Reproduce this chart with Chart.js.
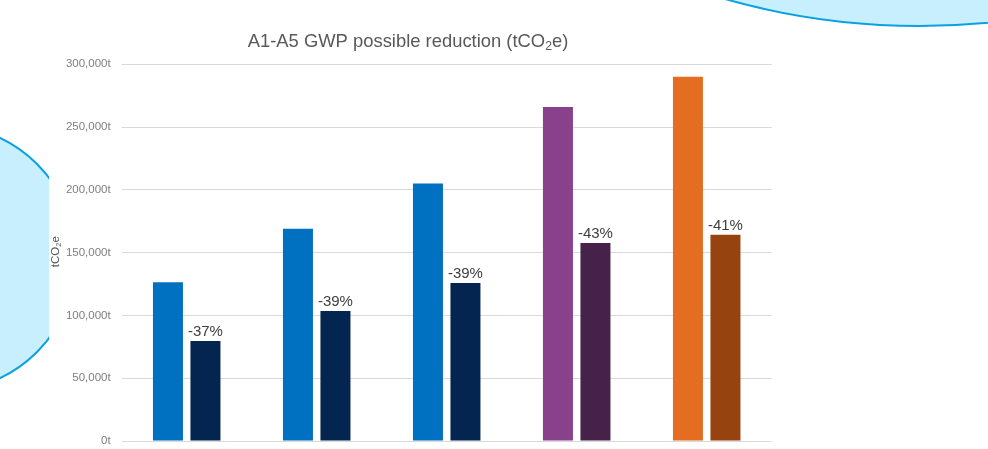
<!DOCTYPE html>
<html>
<head>
<meta charset="utf-8">
<title>A1-A5 GWP possible reduction</title>
<script src="https://cdn.jsdelivr.net/npm/chart.js@4.4.1/dist/chart.umd.min.js"></script>
<style>
  html, body { margin: 0; padding: 0; background: #fff; overflow: hidden; }
  #stage { position: relative; width: 988px; height: 449px; overflow: hidden; background: #fff; }
  .bubble { position: absolute; border-radius: 50%; background: #c7effd; border: 2px solid #0aa0e2; box-sizing: border-box; }
  #bubbleLeft { left: -191px; top: 124px; width: 268px; height: 268px; }
  #bubbleTop { left: 204px; top: -1405px; width: 1432px; height: 1432px; }
  #panel { position: absolute; left: 49px; top: 30px; right: 0; bottom: 0; background: #fff; }
  #chart { position: absolute; left: 0; top: 0; }
</style>
</head>
<body>
<div id="stage">
  <div class="bubble" id="bubbleLeft"></div>
  <div class="bubble" id="bubbleTop"></div>
  <div id="panel"></div>
  <canvas id="chart" width="988" height="449"></canvas>
</div>
<script>
// Embodied carbon (A1-A5) per scheme: current design vs. reduced design
const categories = ['Option 1', 'Option 2', 'Option 3', 'Option 4', 'Option 5'];
const baselineValues = [126500, 169000, 205000, 265900, 290000];
const reducedValues = [79700, 103600, 125900, 157600, 164200];
const reductionLabels = ['-37%', '-39%', '-39%', '-43%', '-41%'];
const baselineColors = ['#0070c0', '#0070c0', '#0070c0', '#88418a', '#e46d22'];
const reducedColors = ['#03254f', '#03254f', '#03254f', '#46214a', '#974310'];
const yTickValues = [0, 50000, 100000, 150000, 200000, 250000, 300000];

// Title and axis title pieces; "sub" pieces are set as subscripts
const titleParts = [{ t: 'A1-A5 GWP possible reduction (tCO' }, { t: '2', sub: true }, { t: 'e)' }];
const yTitleParts = [{ t: 'tCO' }, { t: '2', sub: true }, { t: 'e' }];

const FONT = '"Liberation Sans", Arial, sans-serif';

function drawParts(ctx, parts, size, x, y, color) {
  const subSize = size * 0.66;
  let total = 0;
  const widths = parts.map(p => {
    ctx.font = (p.sub ? subSize : size) + 'px ' + FONT;
    const w = ctx.measureText(p.t).width;
    total += w;
    return w;
  });
  let cx = x - total / 2;
  ctx.fillStyle = color;
  ctx.textAlign = 'left';
  ctx.textBaseline = 'alphabetic';
  parts.forEach((p, i) => {
    ctx.font = (p.sub ? subSize : size) + 'px ' + FONT;
    ctx.fillText(p.t, cx, p.sub ? y + size * 0.17 : y);
    cx += widths[i];
  });
}

const textPlugin = {
  id: 'textPlugin',
  afterDraw(chart) {
    const ctx = chart.ctx;
    const area = chart.chartArea;
    ctx.save();
    // chart title
    drawParts(ctx, titleParts, 18.4, 408, 47, '#595959');
    // y-axis title, rotated
    ctx.translate(59, (area.top + area.bottom) / 2 - 1);
    ctx.rotate(-Math.PI / 2);
    drawParts(ctx, yTitleParts, 11.5, 0, 0, '#595959');
    ctx.restore();

    // reduction labels above the reduced bars
    ctx.save();
    ctx.font = '15px ' + FONT;
    ctx.fillStyle = '#404040';
    ctx.textAlign = 'center';
    ctx.textBaseline = 'alphabetic';
    chart.getDatasetMeta(1).data.forEach((bar, i) => {
      ctx.fillText(reductionLabels[i], bar.x, bar.y - 5);
    });
    ctx.restore();
  }
};

new Chart(document.getElementById('chart'), {
  type: 'bar',
  data: {
    labels: categories,
    datasets: [
      { label: 'Current', data: baselineValues, backgroundColor: baselineColors, borderWidth: 0 },
      { label: 'Reduced', data: reducedValues, backgroundColor: reducedColors, borderWidth: 0 }
    ]
  },
  options: {
    responsive: false,
    animation: false,
    devicePixelRatio: 1,
    categoryPercentage: 0.577,
    barPercentage: 0.8,
    layout: { padding: { left: 40, right: 216.3, top: 64.3, bottom: 8 } },
    plugins: {
      legend: { display: false },
      title: { display: false },
      tooltip: { enabled: false }
    },
    scales: {
      x: { display: false },
      y: {
        min: 0,
        max: 300000,
        afterBuildTicks(scale) { scale.ticks = yTickValues.map(v => ({ value: v })); },
        afterFit(scale) { scale.width = 81.7; },
        border: { display: false },
        grid: { color: '#d9d9d9', lineWidth: 1, drawTicks: true, tickLength: 11, tickColor: 'rgba(0,0,0,0)' },
        ticks: {
          padding: 0,
          color: '#7f7f7f',
          font: { family: FONT, size: 11.5 },
          callback: v => v.toLocaleString('en-US') + 't'
        }
      }
    }
  },
  plugins: [textPlugin]
});
</script>
</body>
</html>
